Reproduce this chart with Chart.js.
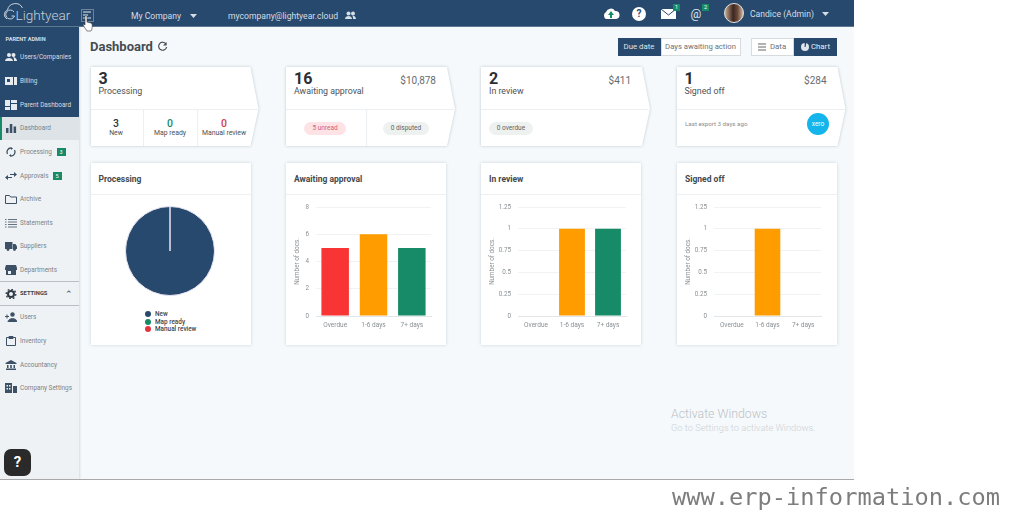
<!DOCTYPE html>
<html>
<head>
<meta charset="utf-8">
<script src="https://cdn.jsdelivr.net/npm/chart.js@4"></script>
<style>
  html, body { margin: 0; width: 1024px; height: 512px; overflow: hidden; background: #fff; font-family: Roboto, sans-serif; }
  #app { position: absolute; left: 0; top: 0; width: 854px; height: 479px; background: #f5f9fb; overflow: hidden; filter: blur(.5px); }
  #app div, #app svg { position: absolute; }
  .t { white-space: nowrap; line-height: 1; }
  .c { transform: translateX(-50%); }
  .card { background: #fff; box-shadow: 0 0 3px rgba(60,80,100,.22); }
  .sum { filter: drop-shadow(0 0 1.5px rgba(60,80,100,.3)); }
  .pill { border-radius: 7px; height: 13px; line-height: 13px; text-align: center; font-size: 6.5px; }
  canvas { position: absolute; }
</style>
</head>
<body>
<div id="app">
  <div id="sidebar" style="left:0;top:27px;width:79px;height:452px;background:#eef2f4;box-shadow:1px 0 2px rgba(0,0,0,.12)">
    <div style="left:0;top:0;width:79px;height:90px;background:#27496d"></div>
    <div style="left:0;top:90px;width:79px;height:23px;background:#dde3e6"></div>
    <div style="left:0;top:90px;width:2px;height:23px;background:#178a68"></div>
    <div style="left:0;top:254px;width:79px;height:25px;border-top:1px solid #b9c0c5;border-bottom:1px solid #b9c0c5;box-sizing:border-box"></div>
  </div>
  <div style="left:0;top:0;width:854px;height:27px;background:#27496d;border-bottom:1px solid #5d7890;box-sizing:border-box"></div>

  <!-- logo and top bar -->
  <svg style="left:3px;top:2px" width="30" height="24"><path d="M4 17a5 5 0 0 1 .5-9 8 8 0 0 1 15-2" fill="none" stroke="#c6d2dc" stroke-width="1"/><path d="M11 10a4.5 4.5 0 1 0 .5 4h-3" fill="none" stroke="#c6d2dc"/></svg>
  <div class="t" style="left:15.5px;top:9px;font-size:13.6px;font-weight:300;color:#c6d2dc">Lightyear</div>
  <div style="left:81px;top:9px;width:13px;height:13px;border:1px solid #6d8399;box-sizing:border-box"></div>
  <svg style="left:83px;top:11px" width="10" height="9"><path d="M0 1h8M0 4h5M0 7h8" stroke="#e4eaef" stroke-width="1"/></svg>
  <svg style="left:82px;top:15px" width="12" height="18"><path d="M3 1c1-1 2 0 2 1v5l4 1c2 1 1 4 1 6l-1 2H5L1 10c0-1 1-1 2 0z" fill="#fff" stroke="#333" stroke-width=".6"/></svg>
  <div class="t" style="left:131px;top:11.5px;font-size:8.6px;color:#d5dde5">My Company</div>
  <svg style="left:190px;top:13.5px" width="8" height="5"><path d="M0 0h7L3.5 4z" fill="#d5dde5"/></svg>
  <div class="t" style="left:228px;top:11.5px;font-size:8.6px;color:#d5dde5">mycompany@lightyear.cloud</div>
  <svg style="left:345px;top:11px" width="11" height="9"><circle cx="3.5" cy="2.5" r="2" fill="#d5dde5"/><circle cx="8" cy="2.5" r="2" fill="#d5dde5"/><path d="M0 8c0-4 7-4 7 0zM8 8c0-2 0-3-1-3 2-1 4 1 4 3z" fill="#d5dde5"/></svg>
  <svg style="left:602px;top:7px" width="18" height="14"><path d="M4 12a4 4 0 0 1 0-7 5 5 0 0 1 9-1 4 4 0 0 1 1 8z" fill="#fff"/><path d="M9 4l3 4h-2v3H8V8H6z" fill="#178a68"/></svg>
  <svg style="left:632px;top:7px" width="14" height="14"><circle cx="7" cy="7" r="7" fill="#fff"/></svg>
  <div class="t c" style="left:639px;top:9px;font-size:10px;font-weight:700;color:#27496d">?</div>
  <svg style="left:661px;top:9px" width="15" height="10"><rect width="15" height="10" fill="#fff"/><path d="M0 0l7.5 6L15 0" fill="none" stroke="#27496d"/></svg>
  <div style="left:673px;top:4px;width:7px;height:7px;background:#178a68"></div>
  <div class="t c" style="left:676.5px;top:5px;font-size:5.5px;color:#fff">1</div>
  <div class="t c" style="left:696px;top:8px;font-size:12px;color:#dfe6ec">@</div>
  <div style="left:702px;top:4px;width:7px;height:7px;background:#178a68"></div>
  <div class="t c" style="left:705.5px;top:5px;font-size:5.5px;color:#fff">2</div>
  <div style="left:724px;top:3px;width:20px;height:20px;border-radius:50%;background:linear-gradient(90deg,#c9a88f,#3a2620 45%,#6b4a3a 70%,#cdb6a2);border:1px solid #e8e4e0;box-sizing:border-box"></div>
  <div class="t" style="left:750px;top:9.5px;font-size:8.6px;color:#d5dde5">Candice (Admin)</div>
  <svg style="left:822px;top:11.5px" width="8" height="5"><path d="M0 0h7L3.5 4z" fill="#d5dde5"/></svg>

  <div style="left:4px;top:449px;width:27px;height:27px;border-radius:7px;background:#2a2a2a"></div>
  <div class="t c" style="left:17.5px;top:455px;font-size:15px;font-weight:700;color:#fff">?</div>

  <!-- header row -->
  <div class="t" style="left:90px;top:40px;font-size:13px;font-weight:700;color:#454c52">Dashboard</div>
  <svg style="left:157px;top:41px" width="11" height="11"><path d="M9 3a4 4 0 1 0 .6 3" fill="none" stroke="#454c52" stroke-width="1.2"/><path d="M9.6 1v3.5H6z" fill="#454c52"/></svg>
  <div style="left:617.5px;top:38px;width:43px;height:17.5px;background:#27496d"></div>
  <div class="t c" style="left:639px;top:42.8px;font-size:7.8px;color:#dfe6ec">Due date</div>
  <div style="left:660.5px;top:38px;width:80px;height:17.5px;background:#fff;box-shadow:inset 0 0 0 1px #d6dbdf"></div>
  <div class="t c" style="left:700.5px;top:42.8px;font-size:7.7px;color:#6b7278">Days awaiting action</div>
  <div style="left:751px;top:38px;width:43px;height:17.5px;background:#fff;box-shadow:inset 0 0 0 1px #d6dbdf"></div>
  <svg style="left:758px;top:43px" width="9" height="8"><path d="M0 1h8M0 4h8M0 7h8" stroke="#666"/></svg>
  <div class="t" style="left:770px;top:42.8px;font-size:7.8px;color:#6b7278">Data</div>
  <div style="left:794px;top:38px;width:43px;height:17.5px;background:#27496d"></div>
  <svg style="left:801px;top:43px" width="8" height="8"><circle cx="4" cy="4" r="4" fill="#dfe6ec"/><path d="M4 4V0h1z" stroke="#27496d" stroke-width=".6"/></svg>
  <div class="t" style="left:811px;top:42.8px;font-size:7.8px;color:#e8edf1">Chart</div>

  <div class="t" style="left:671px;top:408px;font-size:12.3px;font-weight:300;color:#bcc2c6">Activate Windows</div>
  <div class="t" style="left:671px;top:423px;font-size:9.3px;font-weight:300;color:#cdd2d6">Go to Settings to activate Windows.</div>
</div>
<div style="position:absolute;left:0;top:479px;width:854px;height:1px;background:#a9a9a9"></div>
<div class="t" style="position:absolute;left:672px;top:486px;font-family:'DejaVu Sans Mono',monospace;font-size:23.7px;color:#7d7d7d;filter:blur(.5px)">www.erp-information.com</div>

<script>
const categories = ['Overdue', '1-6 days', '7+ days'];
const awaitingDocs = [5, 6, 5];
const reviewDocs = [0, 1, 1];
const signedDocs = [0, 1, 0];
const barColors = ['#f93434', '#ff9d00', '#178a68'];
const awaitingTicks = ['0', '2', '4', '6', '8'];
const quarterTicks = ['0', '0.25', '0.5', '0.75', '1', '1.25'];

const pieLabels = ['New', 'Map ready', 'Manual review'];
const pieDocs = [3, 0, 0];
const pieColors = ['#27496d', '#178a68', '#e5333d'];

const navLabels = ['Users/Companies', 'Billing', 'Parent Dashboard', 'Dashboard', 'Processing', 'Approvals', 'Archive',
  'Statements', 'Suppliers', 'Departments', 'SETTINGS', 'Users', 'Inventory', 'Accountancy', 'Company Settings'];
const navY = [57, 81, 105, 128, 152, 176, 199, 223, 246, 270, 294, 317, 341, 365, 388];
const navBadges = { Processing: '3', Approvals: '5' };
// little menu glyphs, drawn in a 12x10 box
const navIcons = [
  '<circle cx="4" cy="3" r="2"/><circle cx="8.5" cy="3" r="2"/><path d="M0 9c0-4 8-4 8 0zM9 9c0-2 0-3-1-4 2 0 4 2 4 4z"/>',
  '<path fill-rule="evenodd" d="M0 1h8v8H0zM2 3v3h3V3z"/><path d="M9 1h3v8H9z"/>',
  '<path d="M0 0h5v6H0zM6 0h6v3H6zM6 4h6v6H6zM0 7h5v3H0z"/>',
  '<path d="M1 5h2.500v5H1zM4.800 1h2.500v9H4.800zM8.600 3.500h2.500V10H8.600z"/>',
  '<path d="M6 1a4 4 0 0 0-3.500 6M6 9a4 4 0 0 0 3.500-6" fill="none" stroke="#3d5166" stroke-width="1.300"/><path d="M6 0v3L8 1.500zM6 10V7L4 8.500z"/>',
  '<path d="M1 6.500h6M11 3.500H5" fill="none" stroke="#3d5166" stroke-width="1.200"/><path d="M3 4v5L0 6.500zM9 1v5l3-2.500z"/>',
  '<path d="M.5 1.500h4l1 1.500h6v6.500H.500z" fill="none" stroke="#3d5166" stroke-width="1"/>',
  '<path d="M3 1.500h9M3 4h9M3 6.500h9M3 9h9M0 1.500h1.500M0 4h1.500M0 6.500h1.500M0 9h1.500" stroke="#3d5166" stroke-width=".8"/>',
  '<path d="M0 1h7.500v7H0zM8 3h2.500L12 5.500V8H8z"/><circle cx="3" cy="8.500" r="1.400"/><circle cx="9.500" cy="8.500" r="1.400"/>',
  '<path fill-rule="evenodd" d="M1 0h10l1 3v2h-1v5H1V5H0V3zM3 6v3h3V6z"/>',
  '<circle cx="6" cy="5" r="3" fill="none" stroke="#2f3a44" stroke-width="2"/><circle cx="6" cy="5" r="4.800" fill="none" stroke="#2f3a44" stroke-width="1.300" stroke-dasharray="1.800 1.900"/>',
  '<circle cx="7.500" cy="2.500" r="2.200"/><path d="M3 10c0-4.500 9-4.500 9 0zM0 4.500h4M2 2.500v4" stroke="#3d5166"/>',
  '<path d="M1.500 1.500h9v8h-9zM4 .5h4v2H4z" fill="none" stroke="#3d5166"/>',
  '<path d="M6 0l5.500 3v1H.500V3zM1 8.500h10V10H1zM2 5h1.500v3H2zM5.200 5h1.600v3H5.200zM8.500 5H10v3H8.500z"/>',
  '<path fill-rule="evenodd" d="M0 0h7v10H0zM1.500 2v1.500h1.500V2zM4 2v1.500h1.500V2zM1.500 5v1.500h1.500V5zM4 5v1.500h1.500V5z"/><path d="M8 3h4v7H8z"/>'
];

const app = document.getElementById('app');

function text(x, y, str, size, color, extra) {
  const d = document.createElement('div');
  d.className = 't';
  d.textContent = str;
  d.style.cssText = `left:${x}px;top:${y}px;font-size:${size}px;color:${color};${extra || ''}`;
  app.appendChild(d);
  return d;
}
function box(x, y, w, h, css) {
  const d = document.createElement('div');
  d.style.cssText = `left:${x}px;top:${y}px;width:${w}px;height:${h}px;${css}`;
  app.appendChild(d);
  return d;
}

// sidebar
text(5.5, 36.5, 'PARENT ADMIN', 5.6, '#d5dde5', 'font-weight:700');
navLabels.forEach(function (label, i) {
  const dark = i < 3;
  const settings = label === 'SETTINGS';
  text(20, navY[i] - 3.2, label, settings ? 5.8 : 6.4, dark ? '#d5dde5' : '#7b8388', settings ? 'font-weight:700;color:#3a4248' : '');
  const holder = document.createElement('div');
  holder.style.cssText = `left:5px;top:${navY[i] - 5}px;width:12px;height:10px`;
  holder.innerHTML = `<svg style="left:0;top:0" width="12" height="10" viewBox="0 0 12 10" fill="${dark ? '#e6ebf0' : '#3d5166'}">${navIcons[i]}</svg>`;
  app.appendChild(holder);
  if (navBadges[label]) {
    box(label === 'Processing' ? 57 : 53, navY[i] - 4, 9, 8, 'background:#178a68');
    text(label === 'Processing' ? 59.5 : 55.5, navY[i] - 2.5, navBadges[label], 5.5, '#fff');
  }
});
text(65, 290, '⌃', 9, '#444');

// summary cards across the top
const summaries = [
  { x: 90.5, w: 160, n: '3', label: 'Processing', amount: '' },
  { x: 286, w: 161, n: '16', label: 'Awaiting approval', amount: '$10,878' },
  { x: 481, w: 161, n: '2', label: 'In review', amount: '$411' },
  { x: 676.5, w: 161, n: '1', label: 'Signed off', amount: '$284' }
];
summaries.forEach(function (s) {
  const wrap = box(s.x, 67, s.w + 8, 79, '');
  wrap.className = 'sum';
  const w = s.w;
  const inner = document.createElement('div');
  inner.style.cssText = `left:0;top:0;width:${w + 8}px;height:79px;background:#fff;clip-path:polygon(0 0,${w}px 0,${w + 8}px 42px,${w}px 79px,0 79px)`;
  wrap.appendChild(inner);
  box(s.x, 109, w + 7, 1, 'background:#eceff1');
  text(s.x + 8, 71, s.n, 16, '#2b2f33', 'font-weight:700');
  text(s.x + 8, 87, s.label, 8.8, '#4c5257');
  if (s.amount) {
    const a = text(0, 76, s.amount, 10, '#666c71');
    a.style.left = 'auto';
    a.style.right = (854 - s.x - w + 11) + 'px';
  }
});
// bottom row of the first cards
[[116, '3', 'New', '#33383c'], [170, '0', 'Map ready', '#178a68'], [224, '0', 'Manual review', '#d23b4d']].forEach(function (r) {
  text(r[0], 118.5, r[1], 10.5, r[3], 'font-weight:500;transform:translateX(-50%)');
  text(r[0], 129.5, r[2], 6.9, '#4c5257', 'transform:translateX(-50%)');
});
box(143, 110, 1, 36, 'background:#eceff1');
box(197, 110, 1, 36, 'background:#eceff1');
box(366, 110, 1, 36, 'background:#eceff1');
[[304, 42, '#fde3e6', '5 unread', '#d5606f'], [383, 46, '#edf1ef', '0 disputed', '#5c6367'], [489, 44, '#edf1ef', '0 overdue', '#5c6367']].forEach(function (p) {
  const d = box(p[0], 121.5, p[1], 13, `background:${p[2]};color:${p[4]}`);
  d.className = 'pill';
  d.textContent = p[3];
});
text(685, 121, 'Last export 3 days ago', 6.2, '#888e92');
box(807, 113, 22, 22, 'background:#13b5ea;border-radius:50%');
text(818, 121, 'xero', 6.5, '#fff', 'transform:translateX(-50%)');

// chart cards
const cards = [
  { x: 90.5, title: 'Processing' },
  { x: 286, title: 'Awaiting approval' },
  { x: 481, title: 'In review' },
  { x: 677, title: 'Signed off' }
];
cards.forEach(function (c) {
  box(c.x, 163, 160, 182, '').className = 'card';
  box(c.x, 194, 160, 1, 'background:#eef0f2');
  text(c.x + 8, 175, c.title, 8.5, '#43494e', 'font-weight:700');
});

// pie legend, stacked and centred as in the card
pieLabels.forEach(function (label, i) {
  box(145, 311 + i * 7.5, 6, 6, `background:${pieColors[i]};border-radius:50%`);
  text(155, 311 + i * 7.5, label, 6.4, '#3d4347', 'font-weight:500');
});

function addCanvas(x, y, w, h) {
  const cv = document.createElement('canvas');
  cv.style.cssText = `left:${x}px;top:${y}px;width:${w}px;height:${h}px`;
  cv.width = w; cv.height = h;
  app.appendChild(cv);
  return cv;
}

new Chart(addCanvas(91, 196, 158, 148), {
  type: 'pie',
  data: {
    labels: pieLabels,
    datasets: [{ data: pieDocs, backgroundColor: pieColors, borderColor: '#e9e6f2', borderWidth: 1 }]
  },
  options: {
    responsive: false,
    animation: false,
    layout: { padding: { left: 34, right: 34, top: 10, bottom: 48 } },
    plugins: { legend: { display: false }, tooltip: { enabled: false } }
  }
});

function barChart(x, docs, ticks, max, step, yWidth, rightPad) {
  return new Chart(addCanvas(x, 196, 160, 148), {
    type: 'bar',
    data: {
      labels: categories,
      datasets: [{ data: docs, backgroundColor: barColors, barPercentage: 0.78, categoryPercentage: 0.92 }]
    },
    options: {
      responsive: false,
      animation: false,
      layout: { padding: { left: 8, right: rightPad, top: 11, bottom: 10 } },
      plugins: { legend: { display: false }, tooltip: { enabled: false } },
      scales: {
        x: {
          border: { color: '#e3e6e8' },
          grid: { display: false, drawTicks: false },
          ticks: { color: '#8a9094', font: { size: 6.5, family: 'Roboto' }, padding: 5, maxRotation: 0 },
          afterFit: function (s) { s.height = 18; }
        },
        y: {
          min: 0, max: max,
          border: { display: false },
          grid: { color: '#f0f2f3', drawTicks: false },
          ticks: {
            stepSize: step, padding: 7, color: '#8a9094', font: { size: 6.3, family: 'Roboto' },
            callback: function (v, i) { return ticks[i]; }
          },
          title: { display: true, text: 'Number of docs.', color: '#8a9094', font: { size: 6.3, family: 'Roboto' }, padding: 0 },
          afterFit: function (s) { s.width = yWidth; }
        }
      }
    }
  });
}
barChart(286, awaitingDocs, awaitingTicks, 8, 2, 22, 15);
barChart(481, reviewDocs, quarterTicks, 1.25, 0.25, 29, 15);
barChart(677, signedDocs, quarterTicks, 1.25, 0.25, 29, 16);
</script>
</body>
</html>
